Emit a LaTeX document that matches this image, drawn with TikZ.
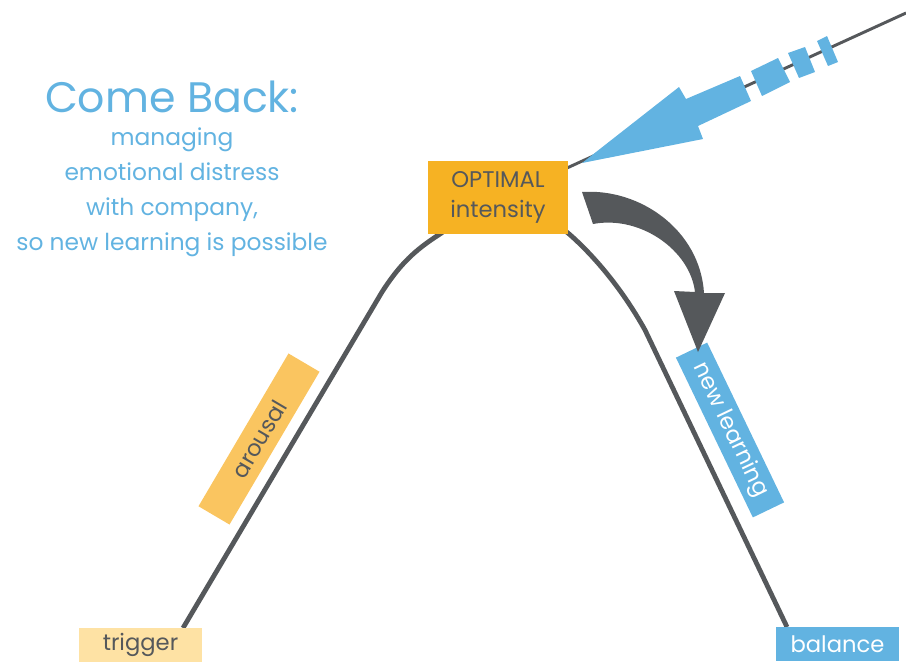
\documentclass[tikz,border=0pt]{standalone}
\usepackage{fontspec}
\setmainfont{Poppins}
\usetikzlibrary{positioning}
\definecolor{skyblue}{HTML}{62B3E1}
\definecolor{peakorange}{HTML}{F6B223}
\definecolor{lightorange}{HTML}{FAC560}
\definecolor{paleorange}{HTML}{FEE2A4}
\definecolor{curvegray}{HTML}{55585B}
\tikzstyle{tag} = [rectangle, inner sep=0pt, text centered, font=\fontsize{17}{22}\selectfont]
\tikzstyle{curve} = [line width=3.6pt, draw=curvegray]
\tikzstyle{needle} = [line width=2.2pt, draw=curvegray]

\begin{document}
\begin{tikzpicture}[x=0.75pt, y=-0.75pt]
			\useasboundingbox (0,0) rectangle (906,661);
			% Text
			\node (title) [text=skyblue, font=\fontsize{32}{36}\selectfont] at (172,97) {Come Back:};
			\node (subtitle) [text=skyblue, align=center, font=\fontsize{17.5}{26.25}\selectfont] at (172,192) {managing\\emotional distress\\with company,\\so new learning is possible};
			
			% Curve
			\draw [curve] (183,628) -- (382,292) .. controls (400,264) and (415,250) .. (440,234)
			.. controls (480,205) and (530,205) .. (568,233)
			.. controls (590,252) and (620,285) .. (645,330) -- (787,627);
			\draw [needle] (906,13) -- (567,168);
			
			% Nodes
			\node (optimal) [tag, fill=peakorange, text=curvegray, align=center, minimum width=105pt, minimum height=55pt] at (498,197.5) {OPTIMAL\\intensity};
			\node (trigger) [tag, fill=paleorange, text=curvegray, minimum width=92pt, minimum height=26pt] at (140.5,645) {trigger};
			\node (balance) [tag, fill=skyblue, text=white, minimum width=92pt, minimum height=26pt] at (837.5,644) {balance};
			\node (arousal) [tag, fill=lightorange, text=curvegray, rotate=59.5, minimum width=133pt, minimum height=27pt] at (259,439) {arousal};
			\node (learning) [tag, fill=skyblue, text=white, rotate=-64.3, minimum width=133pt, minimum height=26pt] at (730,430) {new learning};
			
			% Syringe
			\fill [skyblue] (582,163) -- (679,87) -- (686,99) -- (740,76) -- (751,101) -- (698,126) -- (703,139) -- cycle;
			\fill [skyblue] (751,71) -- (778,58) -- (790,82) -- (762,96) -- cycle;
			\fill [skyblue] (788,53) -- (805,47) -- (815,72) -- (799,78) -- cycle;
			\fill [skyblue] (817,41) -- (827,36) -- (838,62) -- (828,66) -- cycle;
			
			% Arrows
			\fill [curvegray] (582,192) .. controls (640,188) and (700,230) .. (704,293) -- (725,293) -- (698,352) -- (674,291) -- (695,292) .. controls (690,250) and (640,215) .. (593,224) -- cycle;
\end{tikzpicture}
\end{document}
